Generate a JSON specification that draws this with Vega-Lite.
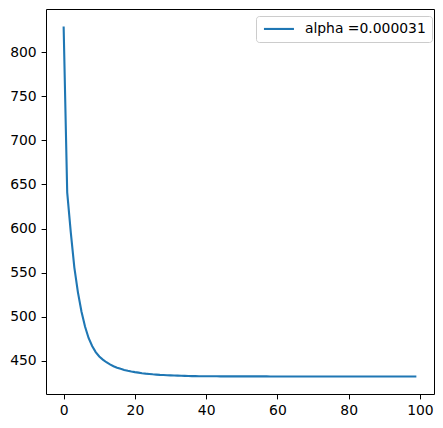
{
  "$schema": "https://vega.github.io/schema/vega-lite/v6.json",
  "autosize": "none",
  "width": 388,
  "height": 385,
  "padding": {"left": 46, "top": 9, "right": 9, "bottom": 34},
  "background": "white",
  "config": {
    "view": {"stroke": "black", "strokeWidth": 1},
    "font": "DejaVu Sans",
    "axis": {
      "grid": false,
      "domain": false,
      "tickColor": "black",
      "tickWidth": 1,
      "tickSize": 4.9,
      "labelColor": "black",
      "labelFont": "DejaVu Sans",
      "labelFontSize": 13.9,
      "title": null
    }
  },
  "data": {
    "values": [
      {"x": 0, "cost": 829, "series": "alpha =0.000031"},
      {"x": 1, "cost": 641, "series": "alpha =0.000031"},
      {"x": 2, "cost": 596, "series": "alpha =0.000031"},
      {"x": 3, "cost": 556, "series": "alpha =0.000031"},
      {"x": 4, "cost": 528, "series": "alpha =0.000031"},
      {"x": 5, "cost": 506, "series": "alpha =0.000031"},
      {"x": 6, "cost": 489, "series": "alpha =0.000031"},
      {"x": 7, "cost": 476, "series": "alpha =0.000031"},
      {"x": 8, "cost": 467, "series": "alpha =0.000031"},
      {"x": 9, "cost": 460, "series": "alpha =0.000031"},
      {"x": 10, "cost": 455, "series": "alpha =0.000031"},
      {"x": 11, "cost": 451.5, "series": "alpha =0.000031"},
      {"x": 12, "cost": 448.5, "series": "alpha =0.000031"},
      {"x": 13, "cost": 446, "series": "alpha =0.000031"},
      {"x": 14, "cost": 444, "series": "alpha =0.000031"},
      {"x": 15, "cost": 442.3, "series": "alpha =0.000031"},
      {"x": 16, "cost": 441, "series": "alpha =0.000031"},
      {"x": 17, "cost": 439.8, "series": "alpha =0.000031"},
      {"x": 18, "cost": 438.8, "series": "alpha =0.000031"},
      {"x": 19, "cost": 438, "series": "alpha =0.000031"},
      {"x": 20, "cost": 437.3, "series": "alpha =0.000031"},
      {"x": 21, "cost": 436.7, "series": "alpha =0.000031"},
      {"x": 22, "cost": 436.1, "series": "alpha =0.000031"},
      {"x": 23, "cost": 435.6, "series": "alpha =0.000031"},
      {"x": 24, "cost": 435.2, "series": "alpha =0.000031"},
      {"x": 25, "cost": 434.8, "series": "alpha =0.000031"},
      {"x": 26, "cost": 434.5, "series": "alpha =0.000031"},
      {"x": 27, "cost": 434.2, "series": "alpha =0.000031"},
      {"x": 28, "cost": 434.0, "series": "alpha =0.000031"},
      {"x": 29, "cost": 433.8, "series": "alpha =0.000031"},
      {"x": 30, "cost": 433.6, "series": "alpha =0.000031"},
      {"x": 31, "cost": 433.4, "series": "alpha =0.000031"},
      {"x": 32, "cost": 433.3, "series": "alpha =0.000031"},
      {"x": 33, "cost": 433.1, "series": "alpha =0.000031"},
      {"x": 34, "cost": 433.0, "series": "alpha =0.000031"},
      {"x": 35, "cost": 432.9, "series": "alpha =0.000031"},
      {"x": 36, "cost": 432.8, "series": "alpha =0.000031"},
      {"x": 37, "cost": 432.75, "series": "alpha =0.000031"},
      {"x": 38, "cost": 432.7, "series": "alpha =0.000031"},
      {"x": 39, "cost": 432.65, "series": "alpha =0.000031"},
      {"x": 40, "cost": 432.6, "series": "alpha =0.000031"},
      {"x": 41, "cost": 432.58, "series": "alpha =0.000031"},
      {"x": 42, "cost": 432.56, "series": "alpha =0.000031"},
      {"x": 43, "cost": 432.54, "series": "alpha =0.000031"},
      {"x": 44, "cost": 432.52, "series": "alpha =0.000031"},
      {"x": 45, "cost": 432.5, "series": "alpha =0.000031"},
      {"x": 46, "cost": 432.49, "series": "alpha =0.000031"},
      {"x": 47, "cost": 432.48, "series": "alpha =0.000031"},
      {"x": 48, "cost": 432.47, "series": "alpha =0.000031"},
      {"x": 49, "cost": 432.46, "series": "alpha =0.000031"},
      {"x": 50, "cost": 432.45, "series": "alpha =0.000031"},
      {"x": 51, "cost": 432.45, "series": "alpha =0.000031"},
      {"x": 52, "cost": 432.44, "series": "alpha =0.000031"},
      {"x": 53, "cost": 432.44, "series": "alpha =0.000031"},
      {"x": 54, "cost": 432.43, "series": "alpha =0.000031"},
      {"x": 55, "cost": 432.43, "series": "alpha =0.000031"},
      {"x": 56, "cost": 432.42, "series": "alpha =0.000031"},
      {"x": 57, "cost": 432.42, "series": "alpha =0.000031"},
      {"x": 58, "cost": 432.41, "series": "alpha =0.000031"},
      {"x": 59, "cost": 432.41, "series": "alpha =0.000031"},
      {"x": 60, "cost": 432.4, "series": "alpha =0.000031"},
      {"x": 61, "cost": 432.4, "series": "alpha =0.000031"},
      {"x": 62, "cost": 432.4, "series": "alpha =0.000031"},
      {"x": 63, "cost": 432.39, "series": "alpha =0.000031"},
      {"x": 64, "cost": 432.39, "series": "alpha =0.000031"},
      {"x": 65, "cost": 432.39, "series": "alpha =0.000031"},
      {"x": 66, "cost": 432.38, "series": "alpha =0.000031"},
      {"x": 67, "cost": 432.38, "series": "alpha =0.000031"},
      {"x": 68, "cost": 432.38, "series": "alpha =0.000031"},
      {"x": 69, "cost": 432.37, "series": "alpha =0.000031"},
      {"x": 70, "cost": 432.37, "series": "alpha =0.000031"},
      {"x": 71, "cost": 432.37, "series": "alpha =0.000031"},
      {"x": 72, "cost": 432.36, "series": "alpha =0.000031"},
      {"x": 73, "cost": 432.36, "series": "alpha =0.000031"},
      {"x": 74, "cost": 432.36, "series": "alpha =0.000031"},
      {"x": 75, "cost": 432.35, "series": "alpha =0.000031"},
      {"x": 76, "cost": 432.35, "series": "alpha =0.000031"},
      {"x": 77, "cost": 432.35, "series": "alpha =0.000031"},
      {"x": 78, "cost": 432.34, "series": "alpha =0.000031"},
      {"x": 79, "cost": 432.34, "series": "alpha =0.000031"},
      {"x": 80, "cost": 432.34, "series": "alpha =0.000031"},
      {"x": 81, "cost": 432.34, "series": "alpha =0.000031"},
      {"x": 82, "cost": 432.33, "series": "alpha =0.000031"},
      {"x": 83, "cost": 432.33, "series": "alpha =0.000031"},
      {"x": 84, "cost": 432.33, "series": "alpha =0.000031"},
      {"x": 85, "cost": 432.33, "series": "alpha =0.000031"},
      {"x": 86, "cost": 432.32, "series": "alpha =0.000031"},
      {"x": 87, "cost": 432.32, "series": "alpha =0.000031"},
      {"x": 88, "cost": 432.32, "series": "alpha =0.000031"},
      {"x": 89, "cost": 432.32, "series": "alpha =0.000031"},
      {"x": 90, "cost": 432.31, "series": "alpha =0.000031"},
      {"x": 91, "cost": 432.31, "series": "alpha =0.000031"},
      {"x": 92, "cost": 432.31, "series": "alpha =0.000031"},
      {"x": 93, "cost": 432.31, "series": "alpha =0.000031"},
      {"x": 94, "cost": 432.31, "series": "alpha =0.000031"},
      {"x": 95, "cost": 432.3, "series": "alpha =0.000031"},
      {"x": 96, "cost": 432.3, "series": "alpha =0.000031"},
      {"x": 97, "cost": 432.3, "series": "alpha =0.000031"},
      {"x": 98, "cost": 432.3, "series": "alpha =0.000031"},
      {"x": 99, "cost": 432.3, "series": "alpha =0.000031"}
    ]
  },
  "mark": {"type": "line", "strokeWidth": 2.1, "interpolate": "linear"},
  "encoding": {
    "x": {
      "field": "x",
      "type": "quantitative",
      "scale": {"domain": [-4.95, 103.95], "nice": false, "zero": false},
      "axis": {"values": [0, 20, 40, 60, 80, 100], "labelPadding": 5}
    },
    "y": {
      "field": "cost",
      "type": "quantitative",
      "scale": {"domain": [412.5, 848.8], "nice": false, "zero": false},
      "axis": {"values": [450, 500, 550, 600, 650, 700, 750, 800], "labelPadding": 4.9}
    },
    "color": {
      "field": "series",
      "type": "nominal",
      "scale": {"range": ["#1f77b4"]},
      "legend": {
        "title": null,
        "orient": "none",
        "legendX": 210,
        "legendY": 7,
        "symbolType": "M-1,0H5",
        "symbolSize": 100,
        "symbolStrokeWidth": 2.1,
        "labelFont": "DejaVu Sans",
        "labelFontSize": 13.9,
        "labelColor": "black",
        "labelOffset": 29,
        "padding": 6,
        "strokeColor": "#cccccc",
        "fillColor": "rgba(255,255,255,0.8)",
        "cornerRadius": 3
      }
    }
  }
}
